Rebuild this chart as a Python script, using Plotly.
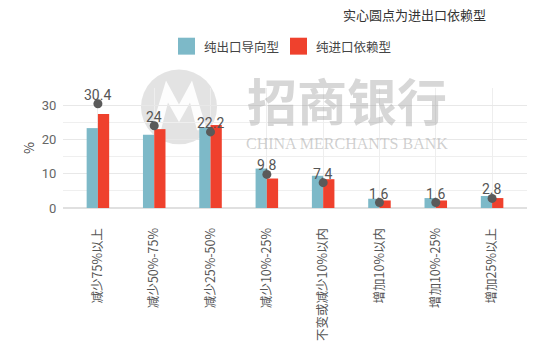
import plotly.graph_objects as go

categories = ["减少75%以上", "减少50%-75%", "减少25%-50%", "减少10%-25%",
              "不变或减少10%以内", "增加10%以内", "增加10%-25%", "增加25%以上"]
export_oriented = [23.3, 21.4, 23.5, 11.5, 9.4, 2.7, 2.9, 3.5]
import_dependent = [27.4, 23.0, 24.2, 8.6, 8.4, 2.2, 2.2, 2.9]
both_dependent = [30.4, 24, 22.2, 9.8, 7.4, 1.6, 1.6, 2.8]
dot_labels = ["30.4", "24", "22.2", "9.8", "7.4", "1.6", "1.6", "2.8"]
series_names = ["纯出口导向型", "纯进口依赖型"]

CJK = "Noto Sans CJK SC"
BLUE = "#7db9c8"
RED = "#ef412d"
colors = [BLUE, RED]

# plot area in pixels: x 63..527, y 87.5..208
L, R, T, B = 63, 527, 87.5, 208
def px(x):
    return (x - L) / (R - L)
def py(y):
    return (B - y) / (B - T)

fig = go.Figure()
for name, vals, col in zip(series_names, [export_oriented, import_dependent], colors):
    fig.add_trace(go.Bar(x=categories, y=vals, name=name, showlegend=False,
                         marker=dict(color=col, line_width=0)))
fig.add_trace(go.Scatter(x=categories, y=both_dependent, mode="markers",
                         marker=dict(color="#5a5a5a", size=9),
                         showlegend=False, cliponaxis=False))
for c, v, t in zip(categories, both_dependent, dot_labels):
    fig.add_annotation(x=c, y=v, text=t, showarrow=False, yshift=9,
                       xanchor="center", yanchor="middle",
                       font=dict(family="Roboto", size=14, color="#555555"))

# watermark logo
fig.add_shape(type="circle", xref="paper", yref="paper",
              x0=px(141), x1=px(217), y0=py(144), y1=py(69),
              fillcolor="rgba(185,185,185,0.40)", line_width=0, layer="below")
m_pts = [(151, 130), (166, 80), (179, 104), (192, 80), (207, 130),
         (197, 130), (190, 102), (179, 122), (168, 102), (161, 130)]
path = "M " + " L ".join(f"{px(a):.4f},{py(b):.4f}" for a, b in m_pts) + " Z"
fig.add_shape(type="path", xref="paper", yref="paper", path=path,
              fillcolor="rgba(255,255,255,0.9)", line_width=0, layer="below")
fig.add_annotation(text="<b>招商银行</b>", xref="paper", yref="paper",
                   x=px(347), y=py(99), showarrow=False,
                   xanchor="center", yanchor="middle",
                   font=dict(family=CJK, size=50, color="rgba(150,150,150,0.38)"))
fig.add_annotation(text="CHINA MERCHANTS BANK", xref="paper", yref="paper",
                   x=px(347), y=py(143), showarrow=False,
                   xanchor="center", yanchor="middle",
                   font=dict(family="Liberation Serif", size=16, color="rgba(150,150,150,0.45)"))

fig.add_annotation(text="实心圆点为进出口依赖型", xref="paper", yref="paper",
                   x=px(414), y=py(14), showarrow=False,
                   xanchor="center", yanchor="middle",
                   font=dict(family=CJK, size=13, color="#333333"))

# legend (drawn manually to match the large square swatches)
legend_x = [178, 290]
for name, col, lx in zip(series_names, colors, legend_x):
    fig.add_shape(type="rect", xref="paper", yref="paper",
                  x0=px(lx), x1=px(lx + 17), y0=py(54), y1=py(37),
                  fillcolor=col, line_width=0)
    fig.add_annotation(text=name, xref="paper", yref="paper", x=px(lx + 24), y=py(45.5),
                       xanchor="left", yanchor="middle", showarrow=False,
                       font=dict(family=CJK, size=12.5, color="#444444"))

fig.update_layout(
    width=550, height=345,
    margin=dict(l=L, r=550 - R, t=T, b=345 - B, autoexpand=False),
    paper_bgcolor="white", plot_bgcolor="white",
    barmode="group", bargap=0.6, bargroupgap=0,
    showlegend=False,
    xaxis=dict(range=[-0.62, 7.62], tickangle=-90, showgrid=True, gridcolor="#eeeeee",
               tickfont=dict(family=CJK, size=12.5, color="#555555"), showline=False,
               ticks="outside", ticklen=14, tickcolor="rgba(0,0,0,0)", zeroline=False,
               automargin=False),
    yaxis=dict(range=[0, 35], tickvals=[0, 10, 20, 30], showgrid=True, gridcolor="#e8e8e8",
               minor=dict(tickvals=[5, 15, 25, 35], showgrid=True, gridcolor="#efefef"),
               tickfont=dict(family="Roboto", size=13, color="#666666"),
               ticks="outside", ticklen=3, tickcolor="rgba(0,0,0,0)",
               zeroline=True, zerolinecolor="#e0e0e0", automargin=False,
               title=dict(text="%", font=dict(family=CJK, size=13, color="#444444"), standoff=4)),
)

fig.write_html("out.html")
